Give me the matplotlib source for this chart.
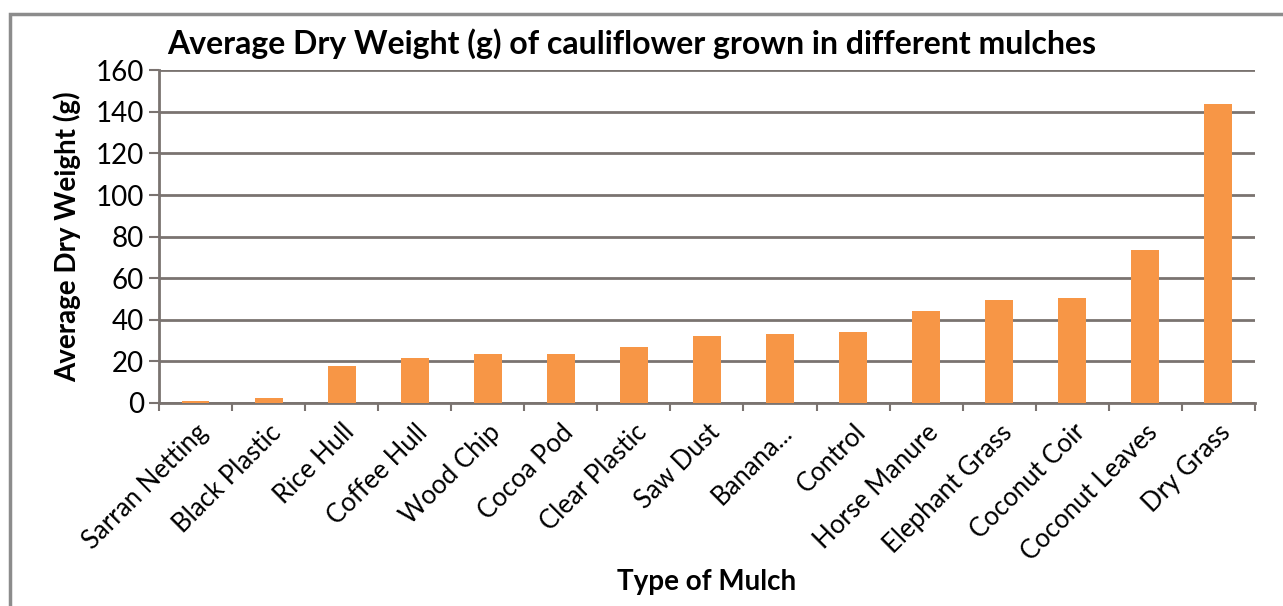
import matplotlib.pyplot as plt
from matplotlib.patches import Rectangle
from matplotlib.ticker import FixedLocator

plt.rcParams["font.family"] = ["Lato", "DejaVu Sans"]

mulches = ["Sarran Netting", "Black Plastic", "Rice Hull", "Coffee Hull", "Wood Chip",
           "Cocoa Pod", "Clear Plastic", "Saw Dust", "Banana...", "Control",
           "Horse Manure", "Elephant Grass", "Coconut Coir", "Coconut Leaves", "Dry Grass"]
dry_weight = [1, 2.5, 18, 21.5, 23.5, 23.5, 27, 32, 33, 34, 44, 49.5, 50.5, 73.5, 144]
y_ticks = [0, 20, 40, 60, 80, 100, 120, 140, 160]

bar_color = "#F79646"
grid_color = "#7a7370"

fig = plt.figure(figsize=(12.83, 6.06), dpi=100)
ax = fig.add_axes([0.124, 0.335, 0.854, 0.549])

# chart area border (open on the right and bottom)
fig.patches.append(Rectangle((10 / 1283, -0.1), 1.2, 1.1 - 14 / 606,
                             transform=fig.transFigure, fill=False,
                             edgecolor="#8c8c8c", linewidth=2.5))

x = list(range(len(mulches)))
ax.bar(x, dry_weight, width=0.38, color=bar_color, zorder=3)

ax.set_xlim(-0.5, len(mulches) - 0.5)
ax.set_ylim(0, 160)
ax.set_yticks(y_ticks)
ax.yaxis.grid(True, color=grid_color, linewidth=2)
ax.set_axisbelow(True)

ax.set_xticks(x)
ax.set_xticklabels(mulches, rotation=45, ha="right", rotation_mode="anchor", fontsize=18.5)
ax.xaxis.set_minor_locator(FixedLocator([i - 0.5 for i in range(len(mulches) + 1)]))
ax.tick_params(axis="x", which="major", length=0, pad=12)
ax.tick_params(axis="x", which="minor", length=6, width=1.5, color=grid_color, direction="out")
ax.tick_params(axis="y", length=7, width=1.5, color=grid_color, labelsize=20, pad=4)

for side in ["top", "right"]:
    ax.spines[side].set_visible(False)
for side in ["left", "bottom"]:
    ax.spines[side].set_color(grid_color)
    ax.spines[side].set_linewidth(2)

ax.set_ylabel("Average Dry Weight (g)", fontsize=20, fontweight="bold", labelpad=10)
ax.set_xlabel("Type of Mulch", fontsize=20, fontweight="bold")
ax.xaxis.set_label_coords(0.5, -0.5)
fig.text(0.492, 0.928, "Average Dry Weight (g) of cauliflower grown in different mulches",
         ha="center", va="center", fontsize=23, fontweight="bold")

fig.savefig("out.png", dpi=100, facecolor="white")
